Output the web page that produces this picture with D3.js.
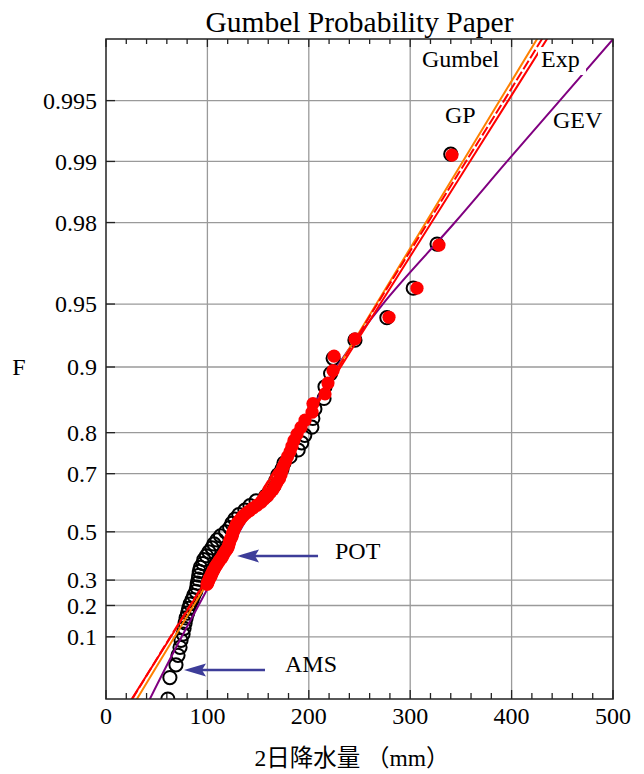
<!DOCTYPE html>
<html>
<head>
<meta charset="utf-8">
<script src="https://d3js.org/d3.v7.min.js"></script>
<style>
  body { margin: 0; background: #fff; }
  svg { display: block; }
  text { font-family: "Liberation Serif", "Times New Roman", "Noto Sans CJK JP", serif; fill: #000; }
</style>
</head>
<body>
<div id="chart"></div>
<script>
// ---- data ----
// AMS (annual maximum series), sorted, with plotting positions F
const amsRain = [61, 63, 69, 71, 73, 74, 76, 77, 78, 79,
  80.5, 81.5, 83, 85, 86.5, 88.5, 89.5, 90, 91, 91.5,
  92, 93, 95.5, 96.5, 99, 101.5, 104.5, 106.5, 109.5, 113,
  118, 122, 124, 127, 131, 137, 142, 148, 157.5, 161.5,
  165.5, 167.5, 169.5, 173.5, 175.5, 181.5, 189.5, 193, 196, 203,
  204, 206, 215, 216, 221.5, 224, 245.5, 277, 303, 326.5,
  340];
const amsF = [0.0092, 0.0255, 0.0419, 0.0582, 0.0746, 0.0910, 0.1073, 0.1237, 0.1401, 0.1564,
  0.1728, 0.1892, 0.2055, 0.2219, 0.2382, 0.2546, 0.2710, 0.2873, 0.3037, 0.3201,
  0.3364, 0.3528, 0.3691, 0.3855, 0.4019, 0.4182, 0.4346, 0.4510, 0.4673, 0.4837,
  0.5000, 0.5164, 0.5327, 0.5491, 0.5655, 0.5818, 0.5982, 0.6145, 0.6309, 0.6473,
  0.6636, 0.6800, 0.6963, 0.7127, 0.7291, 0.7454, 0.7618, 0.7781, 0.7945, 0.8109,
  0.8272, 0.8436, 0.8599, 0.8763, 0.8927, 0.9090, 0.9254, 0.9418, 0.9581, 0.9745,
  0.9908];

// POT (peaks over threshold), largest first, annual non-exceedance F
const potRain = [341.2, 328.4, 306.7, 279.1, 245.6, 224.9, 223.9, 218.9, 216, 204.1,
  203.2, 196.3, 192.3, 188.4, 185.4, 183.4, 181.5, 179, 177, 175,
  173.6, 172.6, 171.1, 168.6, 166.7, 164.7, 161.7, 159.3, 155.8, 152.9,
  148.9, 145, 141.5, 138.1, 135.1, 133.1, 131.2, 129.2, 128.2, 127.2,
  126.2, 125.2, 124.8, 124.3, 123.3, 122.3, 121.8, 121.3, 120.8, 120.3,
  119.3, 117.9, 116.9, 115.9, 114.9, 114.4, 112.9, 111.9, 110.9, 110,
  109, 108, 107.5, 106.5, 106, 105, 104.5, 104, 103.6, 102.6,
  102.1, 101.6, 101.1, 100.6, 100.1, 99.6];
const potF = [0.9907, 0.9742, 0.9581, 0.9421, 0.9265, 0.9111, 0.8960, 0.8811, 0.8665, 0.8521,
  0.8380, 0.8240, 0.8105, 0.7970, 0.7838, 0.7707, 0.7579, 0.7453, 0.7329, 0.7209,
  0.7089, 0.6970, 0.6855, 0.6740, 0.6629, 0.6519, 0.6412, 0.6305, 0.6200, 0.6098,
  0.5995, 0.5896, 0.5798, 0.5703, 0.5606, 0.5515, 0.5423, 0.5332, 0.5245, 0.5157,
  0.5071, 0.4988, 0.4904, 0.4823, 0.4742, 0.4665, 0.4586, 0.4511, 0.4435, 0.4363,
  0.4290, 0.4218, 0.4148, 0.4079, 0.4013, 0.3947, 0.3881, 0.3815, 0.3752, 0.3690,
  0.3627, 0.3568, 0.3510, 0.3451, 0.3392, 0.3337, 0.3282, 0.3227, 0.3173, 0.3122,
  0.3071, 0.3017, 0.2970, 0.2919, 0.2869, 0.2822];

// fitted distributions: rainfall at these F levels
const fitF = [0.005, 0.1, 0.5, 0.8, 0.9, 0.95, 0.98, 0.99, 0.995, 0.999];
const gumbelRain = [24.1, 67.7, 130.5, 189.8, 229.0, 266.6, 315.4, 351.9, 388.3, 472.5];
const gpRain = [19.5, 63.5, 128.5, 189.5, 229.5, 267.5, 317.5, 355, 392.5, 478];
const expRain = [18.8, 64.0, 129.2, 190.7, 231.4, 270.4, 321.0, 358.9, 396.7, 484.1];
const gevRain = [38, 74.6, 131.5, 189.2, 227.5, 273, 344, 395.5, 447.5, 568];

// axis ticks
const fTicks = [0.1, 0.2, 0.3, 0.5, 0.7, 0.8, 0.9, 0.95, 0.98, 0.99, 0.995];
const fTickLabels = ['0.1', '0.2', '0.3', '0.5', '0.7', '0.8', '0.9', '0.95', '0.98', '0.99', '0.995'];
const xTicks = [0, 100, 200, 300, 400, 500];

// ---- chart ----
const W = 644, H = 774;
const plot = { left: 106, right: 613, top: 39, bottom: 699 };

const reduced = F => -Math.log(-Math.log(F)); // Gumbel reduced variate
const x = d3.scaleLinear().domain([0, 500]).range([plot.left, plot.right]);
const y = d3.scaleLinear().domain([-1.545, 6.0]).range([plot.bottom, plot.top]);
const yF = F => y(reduced(F));

const svg = d3.select('#chart').append('svg')
  .attr('width', W).attr('height', H);

svg.append('rect').attr('width', W).attr('height', H).attr('fill', '#fff');

svg.append('clipPath').attr('id', 'clip')
  .append('rect')
  .attr('x', plot.left).attr('y', plot.top)
  .attr('width', plot.right - plot.left).attr('height', plot.bottom - plot.top);

// grid
const grid = svg.append('g').attr('stroke', '#9a9a9a').attr('stroke-width', 1.3);
grid.selectAll('line.v').data(xTicks.slice(1, -1)).enter().append('line')
  .attr('x1', d => x(d)).attr('x2', d => x(d))
  .attr('y1', plot.top).attr('y2', plot.bottom);
grid.selectAll('line.h').data(fTicks).enter().append('line')
  .attr('x1', plot.left).attr('x2', plot.right)
  .attr('y1', d => yF(d)).attr('y2', d => yF(d));

// ticks
const tk = svg.append('g').attr('stroke', '#222').attr('stroke-width', 1.3);
const minor = d3.range(0, 501, 20);
tk.selectAll('line.bm').data(minor).enter().append('line')
  .attr('x1', d => x(d)).attr('x2', d => x(d))
  .attr('y1', plot.bottom).attr('y2', d => plot.bottom - (d % 100 === 0 ? 9 : 6));
tk.selectAll('line.tm').data(minor).enter().append('line')
  .attr('x1', d => x(d)).attr('x2', d => x(d))
  .attr('y1', plot.top).attr('y2', d => plot.top + (d % 100 === 0 ? 8 : 5));
tk.selectAll('line.yl').data(fTicks).enter().append('line')
  .attr('x1', plot.left).attr('x2', plot.left + 9)
  .attr('y1', d => yF(d)).attr('y2', d => yF(d));

// tick labels
svg.selectAll('text.xt').data(xTicks).enter().append('text')
  .attr('x', d => x(d)).attr('y', 724)
  .attr('text-anchor', 'middle').style('font-size', '24px')
  .text(d => d);
svg.selectAll('text.yt').data(fTicks).enter().append('text')
  .attr('x', 97).attr('y', d => yF(d)).attr('dy', '0.34em')
  .attr('text-anchor', 'end').style('font-size', '24px')
  .text((d, i) => fTickLabels[i]);

// titles
svg.append('text').attr('x', (plot.left + plot.right) / 2).attr('y', 32)
  .attr('text-anchor', 'middle').style('font-size', '29.5px')
  .text('Gumbel Probability Paper');
svg.append('text').attr('x', 19).attr('y', 375)
  .attr('text-anchor', 'middle').style('font-size', '24px').text('F');
svg.append('text').attr('x', 352).attr('y', 766)
  .attr('text-anchor', 'middle').style('font-size', '23.5px')
  .text('2日降水量 （mm）');

const body = svg.append('g').attr('clip-path', 'url(#clip)');

// AMS: open black circles
body.selectAll('circle.ams').data(amsRain).enter().append('circle')
  .attr('cx', d => x(d)).attr('cy', (d, i) => yF(amsF[i]))
  .attr('r', 6.6).attr('fill', 'none')
  .attr('stroke', '#000').attr('stroke-width', 2);

// fitted lines
const fitLine = (arr, curve) => d3.line()
  .x(d => x(d)).y((d, i) => yF(fitF[i]))
  .curve(curve || d3.curveLinear)(arr);

body.append('path').attr('d', fitLine(gevRain, d3.curveCatmullRom.alpha(0.5)))
  .attr('fill', 'none').attr('stroke', '#800080').attr('stroke-width', 2);
body.append('path').attr('d', fitLine(gumbelRain))
  .attr('fill', 'none').attr('stroke', '#ff8000').attr('stroke-width', 2);
body.append('path').attr('d', fitLine(gpRain, d3.curveCatmullRom.alpha(0.5)))
  .attr('fill', 'none').attr('stroke', '#ff0000').attr('stroke-width', 2)
  .attr('stroke-dasharray', '10,3');
body.append('path').attr('d', fitLine(expRain))
  .attr('fill', 'none').attr('stroke', '#ff0000').attr('stroke-width', 2);

// POT: filled red circles
body.selectAll('circle.pot').data(potRain).enter().append('circle')
  .attr('cx', d => x(d)).attr('cy', (d, i) => yF(potF[i]))
  .attr('r', 6.6).attr('fill', '#ff0000');

// curve labels (x in mm, y in reduced variate)
const curveLabels = [
  { text: 'Gumbel', x: 311.6, y: 5.68, box: false },
  { text: 'Exp', x: 429.0, y: 5.68, box: true },
  { text: 'GP', x: 334.3, y: 5.04, box: false },
  { text: 'GEV', x: 440.8, y: 4.98, box: false }
];
curveLabels.forEach(l => {
  if (l.box) {
    svg.append('rect').attr('x', x(l.x) - 3).attr('y', y(l.y) - 20)
      .attr('width', 48).attr('height', 28).attr('fill', '#fff');
  }
  svg.append('text').attr('x', x(l.x)).attr('y', y(l.y))
    .style('font-size', '24px').text(l.text);
});

// arrows to the series
const arrows = [
  { text: 'POT', from: 209.1, to: 129.2, y: 0.09, tx: 225.8, ty: 0.055 },
  { text: 'AMS', from: 156.8, to: 76.9, y: -1.213, tx: 176.5, ty: -1.236 }
];
arrows.forEach(a => {
  const yy = y(a.y), tip = x(a.to);
  svg.append('line').attr('x1', x(a.from)).attr('x2', tip + 18)
    .attr('y1', yy).attr('y2', yy)
    .attr('stroke', '#3d3d99').attr('stroke-width', 2.5);
  svg.append('path')
    .attr('d', `M${tip},${yy} L${tip + 22},${yy - 6.5} L${tip + 18},${yy} L${tip + 22},${yy + 6.5} Z`)
    .attr('fill', '#3d3d99');
  svg.append('text').attr('x', x(a.tx)).attr('y', y(a.ty))
    .style('font-size', '24px').text(a.text);
});

// frame
svg.append('rect')
  .attr('x', plot.left).attr('y', plot.top)
  .attr('width', plot.right - plot.left).attr('height', plot.bottom - plot.top)
  .attr('fill', 'none').attr('stroke', '#222').attr('stroke-width', 1.5);
</script>
</body>
</html>
